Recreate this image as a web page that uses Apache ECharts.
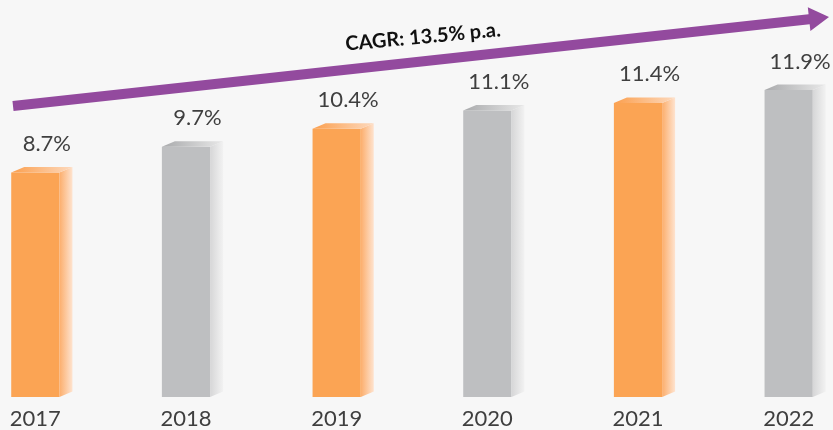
<!DOCTYPE html>
<html><head><meta charset="utf-8">
<script src="https://cdn.jsdelivr.net/npm/echarts@6/dist/echarts.min.js"></script>
<style>html,body{margin:0;padding:0;background:#f7f7f7;overflow:hidden;width:833px;height:430px}
#c{position:absolute;left:-40px;top:0;width:904px;height:430px}</style>
</head><body><div id="c"></div>
<script>
const years = ['2017','2018','2019','2020','2021','2022'];
const values = [8.7, 9.7, 10.4, 11.1, 11.4, 11.9];
const valueLabels = ['8.7%','9.7%','10.4%','11.1%','11.4%','11.9%'];
const barKinds = ['orange','grey','orange','grey','orange','grey'];
const cagrText = 'CAGR: 13.5% p.a.';

const FONT = 'Lato, "Open Sans", sans-serif';
const OFF = 40; // div is shifted left by this many pixels
const palette = {
  orange: {front:'#fba454', top:['#fb9f4e','#fdd9bd'], side:['#fcae6c','#fee3cf']},
  grey:   {front:'#bebfc1', top:['#a9aaac','#e8e8e8'], side:['#d6d6d7','#f2f2f2']}
};
const DEPTH = 13, DY = 5.5;

function renderItem(params, api){
  const i = api.value(0), v = api.value(1);
  const top = api.coord([i, v]);
  const base = api.coord([i, 0]);
  const band = api.size([1,0])[0];
  const w = band * 0.32;
  const x0 = top[0] - w/2, x1 = top[0] + w/2;
  const yt = top[1], yb = base[1];
  const c = palette[barKinds[i]];
  const lin = (a,b)=>({type:'linear',x:0,y:0,x2:1,y2:0,colorStops:[{offset:0,color:a},{offset:1,color:b}]});
  return {type:'group', children:[
    {type:'rect', shape:{x:x0,y:yt,width:w,height:yb-yt}, style:{fill:c.front}},
    {type:'polygon', shape:{points:[[x1,yt],[x1+DEPTH,yt-DY],[x1+DEPTH,yb-DY],[x1,yb]]}, style:{fill:lin(c.side[0],c.side[1])}},
    {type:'polygon', shape:{points:[[x0,yt],[x0+DEPTH,yt-DY],[x1+DEPTH,yt-DY],[x1,yt]]}, style:{fill:lin(c.top[0],c.top[1])}},
    {type:'text', style:{text:valueLabels[i], x:top[0]+11.5, y:yt-DY-12, align:'center', verticalAlign:'bottom', fill:'#3f3f3f', font:'22px '+FONT}}
  ]};
}

// decorative arrow (window coordinates, shifted into the div)
const A = [13+OFF,106], B = [829+OFF,17], T = 10, HL = 20, HW = 12;
const dx = B[0]-A[0], dy = B[1]-A[1], L = Math.hypot(dx,dy);
const ux = dx/L, uy = dy/L, nx = -uy, ny = ux;
const hb = [B[0]-ux*HL, B[1]-uy*HL];
const p = (pt,s)=>[pt[0]+nx*s, pt[1]+ny*s];
const arrowPts = [p(A,-T/2), p(hb,-T/2), p(hb,-HW), B, p(hb,HW), p(hb,T/2), p(A,T/2)];

const chart = echarts.init(document.getElementById('c'));
chart.setOption({
  backgroundColor:'#f7f7f7',
  animation:false,
  grid:{left:0, right:0, top:10, bottom:33},
  xAxis:{type:'category', data:years, axisLine:{show:false}, axisTick:{show:false},
    axisLabel:{color:'#3f3f3f', fontSize:22, fontFamily:FONT, margin:11}},
  yAxis:{type:'value', min:0, max:15, show:false},
  series:[{type:'custom', renderItem, data: values.map((v,i)=>[i,v]), clip:false}],
  graphic:[
    {type:'polygon', shape:{points:arrowPts}, style:{fill:'#934a9e'}, z:10},
    {type:'text', x:423+OFF, y:37, rotation:Math.atan2(-dy,dx)*0.85, style:{text:cagrText, align:'center', verticalAlign:'middle', fill:'#111', font:'bold 20px '+FONT}, z:10}
  ]
});
</script></body></html>
